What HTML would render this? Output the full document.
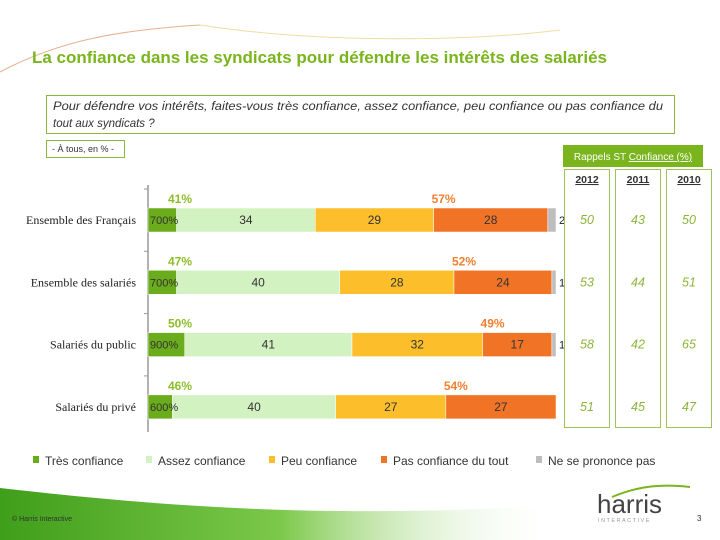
<!DOCTYPE html>
<html><head><meta charset="utf-8">
<style>
body{margin:0;background:#fff;}
svg{display:block;font-family:"Liberation Sans",sans-serif;}
</style></head>
<body>
<svg width="720" height="540" viewBox="0 0 720 540">
<defs>
<linearGradient id="sw" x1="0" y1="0" x2="1" y2="0">
<stop offset="0" stop-color="#3f9e1a"/><stop offset="0.5" stop-color="#7cc84a"/><stop offset="1" stop-color="#ffffff" stop-opacity="0"/>
</linearGradient>
</defs>
<path d="M0,488 C150,505 320,520 560,505 L560,540 L0,540 Z" fill="url(#sw)"/>
<path d="M0,72 C60,40 120,30 200,25" stroke="#e8b090" fill="none" stroke-width="1"/>
<path d="M200,25 C330,45 480,40 560,30" stroke="#f3dca0" fill="none" stroke-width="1"/>
<text x="32" y="63" font-size="17" font-weight="bold" fill="#7ab51d" textLength="575" lengthAdjust="spacingAndGlyphs">La confiance dans les syndicats pour défendre les intérêts des salariés</text>
<rect x="46.5" y="95.5" width="628" height="38" fill="#fff" stroke="#8ab83a"/>
<text x="53" y="110" font-size="11.5" font-style="italic" fill="#333" textLength="610" lengthAdjust="spacingAndGlyphs">Pour défendre vos intérêts, faites-vous très confiance, assez confiance, peu confiance ou pas confiance du</text>
<text x="53" y="127" font-size="11.5" font-style="italic" fill="#333">tout aux syndicats ?</text>
<rect x="46.5" y="140.5" width="78" height="17" fill="#fff" stroke="#8ab83a"/>
<text x="52" y="152" font-size="9" fill="#333">- À tous, en % -</text>
<rect x="563" y="145" width="140" height="22" fill="#7ab51d"/>
<text x="633" y="160" font-size="10" fill="#fff" text-anchor="middle">Rappels ST <tspan text-decoration="underline">Confiance (%)</tspan></text>
<g id="bars"></g>
<g id="labels"></g>
<g id="table"></g>
<g id="legend"></g>
<text x="12" y="521" font-size="7" fill="#333">© Harris Interactive</text>
<path d="M612,497 C640,485 665,484 690,487" stroke="#7ab51d" stroke-width="2" fill="none"/>
<text x="597" y="513" font-size="26" fill="#444">harris</text>
<text x="598" y="522" font-size="5.5" fill="#999" letter-spacing="1.5">INTERACTIVE</text>
<text x="697" y="521" font-size="8" fill="#333">3</text>
</svg>
<script>
const categories=["Ensemble des Français","Ensemble des salariés","Salariés du public","Salariés du privé"];
const tres=[7,7,9,6];
const assez=[34,40,41,40];
const peu=[29,28,32,27];
const pas=[28,24,17,27];
const nsp=[2,1,1,0];
const totalConf=[41,47,50,46];
const totalPas=[57,52,49,54];
const years=["2012","2011","2010"];
const rap2012=[50,53,58,51];
const rap2011=[43,44,42,45];
const rap2010=[50,51,65,47];
const seriesNames=["Très confiance","Assez confiance","Peu confiance","Pas confiance du tout","Ne se prononce pas"];
const colors=["#6aac1c","#d3f2c2","#fcbf2b","#f07326","#bdbdbd"];
const NS="http://www.w3.org/2000/svg";
const x0=148,pxPer=4.08,bh=24;
function xs(v){return x0+v*pxPer;}
function yRow(i){return 208+i*62.3;}
function mk(tag,attrs,parent,txt){const e=document.createElementNS(NS,tag);for(const k in attrs)e.setAttribute(k,attrs[k]);if(txt!==undefined)e.textContent=txt;parent.appendChild(e);return e;}
const gb=document.getElementById('bars');
const gls=document.getElementById('labels');
const ax=mk('line',{x1:x0,y1:185,x2:x0,y2:432,stroke:'#999','stroke-width':1.5},gb);


categories.forEach((c,i)=>{
  const y=yRow(i);
  const t=mk('line',{x1:x0-4,y1:y-19,x2:x0,y2:y-19,stroke:'#999'},gb);
  
  
  const lab=mk('text',{x:136,y:y+16,'font-size':12,'text-anchor':'end',fill:'#222','font-family':'Liberation Serif, serif'},gb,c);
  
  
  const vals=[tres[i],assez[i],peu[i],pas[i],nsp[i]];
  let acc=0;
  vals.forEach((v,k)=>{
    if(v<=0)return;
    const r=mk('rect',{x:xs(acc),y:y,width:v*pxPer,height:bh,fill:colors[k],stroke:'#fff','stroke-width':0.5},gb);
    
    
    let tx;
    if(k===0){tx=mk('text',{x:x0+2,y:y+16,'font-size':11,fill:'#333'},gls,v+"00%");}
    else if(k===4){tx=mk('text',{x:xs(acc+v)+3,y:y+16,'font-size':11,fill:'#222'},gls,String(v));}
    else {tx=mk('text',{x:xs(acc+v/2),y:y+16,'font-size':12,fill:'#333','text-anchor':'middle'},gls,String(v));}
    
    
    acc+=v;
  });
  const g=mk('text',{x:x0+20,y:y-5,'font-size':12,'font-weight':'bold',fill:'#8cbe2a'},gls,totalConf[i]+"%");
  
  
  const o=mk('text',{x:xs(tres[i]+assez[i]+peu[i])+10,y:y-5,'font-size':12,'font-weight':'bold',fill:'#f08030','text-anchor':'middle'},gls,totalPas[i]+"%");
  
  
});
const gt=document.getElementById('table');
const cols=[rap2012,rap2011,rap2010];
const colX=[564,615,666];
cols.forEach((arr,j)=>{
  const b=mk('rect',{x:colX[j]+0.5,y:169.5,width:45,height:258,fill:'none',stroke:'#9cc25a'},gt);
  
  
  const h=mk('text',{x:colX[j]+23,y:183,'font-size':10.5,'font-weight':'bold','text-anchor':'middle',fill:'#333','text-decoration':'underline'},gt,years[j]);
  
  
  arr.forEach((v,i)=>{
    const t=mk('text',{x:colX[j]+23,y:yRow(i)+16,'font-size':12.5,'font-style':'italic','text-anchor':'middle',fill:'#8cb43a'},gt,String(v));
    
    
  });
});
const gl=document.getElementById('legend');
const lx=[45,158,281,393,548];
seriesNames.forEach((n,k)=>{
  const r=mk('rect',{x:lx[k]-12,y:456,width:6,height:7,fill:colors[k]},gl);
  
  
  const t=mk('text',{x:lx[k],y:465,'font-size':12,fill:'#333'},gl,n);
  
  
});
</script>
</body></html>
